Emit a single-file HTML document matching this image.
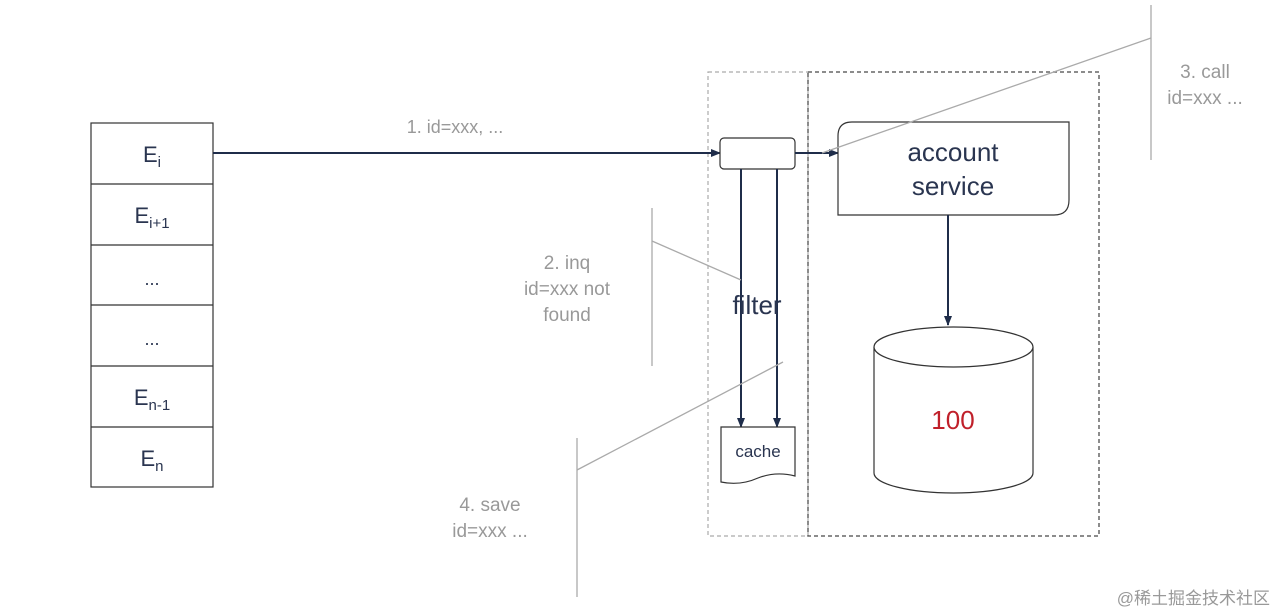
<!DOCTYPE html>
<html><head><meta charset="utf-8"><style>
html,body{margin:0;padding:0;background:#fff;width:1280px;height:613px;overflow:hidden}
svg{display:block}
text{font-family:"Liberation Sans","Noto Sans CJK SC",sans-serif}
</style></head><body>
<svg width="1280" height="613" viewBox="0 0 1280 613" xmlns="http://www.w3.org/2000/svg">
<defs>
<marker id="ah" markerWidth="10" markerHeight="10" refX="9" refY="5" orient="auto" markerUnits="userSpaceOnUse">
<path d="M0,1 L10,5 L0,9 Z" fill="#1f2d4a"/></marker>
</defs>
<!-- left stack -->
<g fill="#fff" stroke="#333" stroke-width="1.2">
<rect x="91" y="123" width="122" height="364"/>
<line x1="91" y1="184" x2="213" y2="184"/><line x1="91" y1="245" x2="213" y2="245"/>
<line x1="91" y1="305" x2="213" y2="305"/><line x1="91" y1="366" x2="213" y2="366"/>
<line x1="91" y1="427" x2="213" y2="427"/>
</g>
<g fill="#2a3550" font-size="22" text-anchor="middle">
<text x="152" y="162">E<tspan font-size="15" dy="5">i</tspan></text>
<text x="152" y="223">E<tspan font-size="15" dy="5">i+1</tspan></text>
<text x="152" y="285" font-size="18">...</text>
<text x="152" y="345" font-size="18">...</text>
<text x="152" y="405">E<tspan font-size="15" dy="5">n-1</tspan></text>
<text x="152" y="466">E<tspan font-size="15" dy="5">n</tspan></text>
</g>
<!-- dashed boxes -->
<rect x="708" y="72" width="100" height="464" fill="none" stroke="#aaa" stroke-width="1.2" stroke-dasharray="4,3"/>
<rect x="808" y="72" width="291" height="464" fill="none" stroke="#666" stroke-width="1.5" stroke-dasharray="4,3"/>
<!-- arrow 1 -->
<line x1="213" y1="153" x2="720" y2="153" stroke="#1f2d4a" stroke-width="2" marker-end="url(#ah)"/>
<text x="455" y="133" font-size="18" fill="#999" text-anchor="middle">1. id=xxx, ...</text>
<!-- small rect -->
<rect x="720" y="138" width="75" height="31" rx="4" fill="#fff" stroke="#333" stroke-width="1.2"/>
<line x1="795" y1="153" x2="838" y2="153" stroke="#1f2d4a" stroke-width="2" marker-end="url(#ah)"/>
<!-- account service -->
<path d="M852,122 L1069,122 L1069,200 Q1069,215 1054,215 L838,215 L838,136 Q838,122 852,122 Z" fill="#fff" stroke="#333" stroke-width="1.2"/>
<text x="953" y="161" font-size="26" fill="#2a3550" text-anchor="middle">account</text>
<text x="953" y="195" font-size="26" fill="#2a3550" text-anchor="middle">service</text>
<line x1="948" y1="215" x2="948" y2="325" stroke="#1f2d4a" stroke-width="2" marker-end="url(#ah)"/>
<!-- cylinder -->
<path d="M874,347 L874,473 A79.5,20 0 0 0 1033,473 L1033,347" fill="#fff" stroke="#333" stroke-width="1.2"/>
<ellipse cx="953.5" cy="347" rx="79.5" ry="20" fill="#fff" stroke="#333" stroke-width="1.2"/>
<text x="953" y="429" font-size="26" fill="#c0202a" text-anchor="middle">100</text>
<!-- down arrows -->
<line x1="741" y1="169" x2="741" y2="427" stroke="#1f2d4a" stroke-width="2" marker-end="url(#ah)"/>
<line x1="777" y1="169" x2="777" y2="427" stroke="#1f2d4a" stroke-width="2" marker-end="url(#ah)"/>
<text x="757" y="314" font-size="26" fill="#2a3550" text-anchor="middle">filter</text>
<!-- cache -->
<path d="M721,427 L795,427 L795,476 Q776,471 758,478 Q740,486 721,482 Z" fill="#fff" stroke="#333" stroke-width="1.2"/>
<text x="758" y="457" font-size="17" fill="#2a3550" text-anchor="middle">cache</text>
<!-- callouts -->
<g stroke="#aaa" stroke-width="1.3" fill="none">
<line x1="652" y1="208" x2="652" y2="366"/><line x1="652" y1="241" x2="741" y2="280"/>
<line x1="1151" y1="5" x2="1151" y2="160"/><line x1="1151" y1="38" x2="822" y2="153"/>
<line x1="577" y1="438" x2="577" y2="597"/><line x1="577" y1="470" x2="783" y2="362"/>
</g>
<g font-size="19" fill="#999" text-anchor="middle">
<text x="567" y="269">2. inq</text>
<text x="567" y="295">id=xxx not</text>
<text x="567" y="321">found</text>
<text x="1205" y="78">3. call</text>
<text x="1205" y="104">id=xxx ...</text>
<text x="490" y="511">4. save</text>
<text x="490" y="537">id=xxx ...</text>
</g>
<text x="1270" y="604" font-size="17" fill="#999" text-anchor="end">@稀土掘金技术社区</text>
</svg>
</body></html>
